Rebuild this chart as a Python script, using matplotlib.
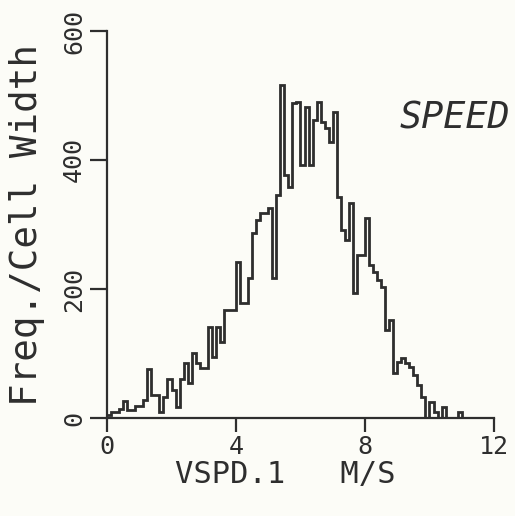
import numpy as np
import matplotlib
matplotlib.use("Agg")
import matplotlib.pyplot as plt

# histogram data (frequency per cell width), bins of 0.125 m/s starting at 0
bin_start = 0.0
bin_width = 0.125
freq = [5, 9, 9, 14, 26, 12, 12, 19, 19, 28,
        76, 36, 36, 9, 33, 60, 43, 17, 60, 85,
        54, 101, 85, 77, 77, 141, 95, 141, 118, 167,
        167, 167, 242, 178, 178, 217, 287, 307, 318, 318,
        326, 217, 346, 516, 377, 358, 488, 490, 392, 482,
        392, 462, 490, 459, 450, 428, 474, 343, 291, 276,
        333, 194, 253, 253, 310, 237, 226, 214, 203, 136,
        152, 70, 87, 93, 85, 79, 67, 51, 33, 0,
        25, 9, 0, 17, 0, 0, 0, 9, 0, 0]
x_ticks = [0, 4, 8, 12]
y_ticks = [0, 200, 400, 600]
x_label = "VSPD.1   M/S"
y_label = "Freq./Cell Width"
title_text = "SPEED"

edges = bin_start + bin_width * np.arange(len(freq) + 1)

ink = "#2e2e2e"
bg = "#fcfcf7"
mono = ["DejaVu Sans Mono"]

W, H = 515, 516
fig = plt.figure(figsize=(W/100, H/100), dpi=100, facecolor=bg)
ax = fig.add_axes([107/W, 1 - 418/H, (494 - 107)/W, (418 - 31)/H])
ax.set_facecolor(bg)

ax.stairs(freq, edges, color=ink, linewidth=2.0, baseline=None)

ax.set_xlim(0, 12)
ax.set_ylim(0, 600)
for s in ["top", "right"]:
    ax.spines[s].set_visible(False)
for s in ["left", "bottom"]:
    ax.spines[s].set_color(ink)
    ax.spines[s].set_linewidth(1.6)

ax.set_xticks(x_ticks)
ax.set_xticklabels([str(t) for t in x_ticks], fontsize=18, family=mono, color=ink)
ax.set_yticks(y_ticks)
ax.set_yticklabels([str(t) for t in y_ticks], fontsize=18, family=mono, color=ink,
                   rotation=90, va="center")
ax.tick_params(axis="x", direction="out", length=10, width=1.6, color=ink, pad=2)
ax.tick_params(axis="y", direction="out", length=12, width=1.6, color=ink, pad=3)

fig.text(285/W, 1 - 475/H, x_label, fontsize=22, family=mono, color=ink,
         ha="center", va="center")
fig.text(27/W, 1 - 225/H, y_label, fontsize=27, family=mono, color=ink,
         ha="center", va="center", rotation=90)

ax.text(0.757, 0.775, title_text, transform=ax.transAxes, fontsize=26.5,
        family=mono, style="italic", color=ink, ha="left", va="center")

fig.savefig("out.png", dpi=100, facecolor=bg)
